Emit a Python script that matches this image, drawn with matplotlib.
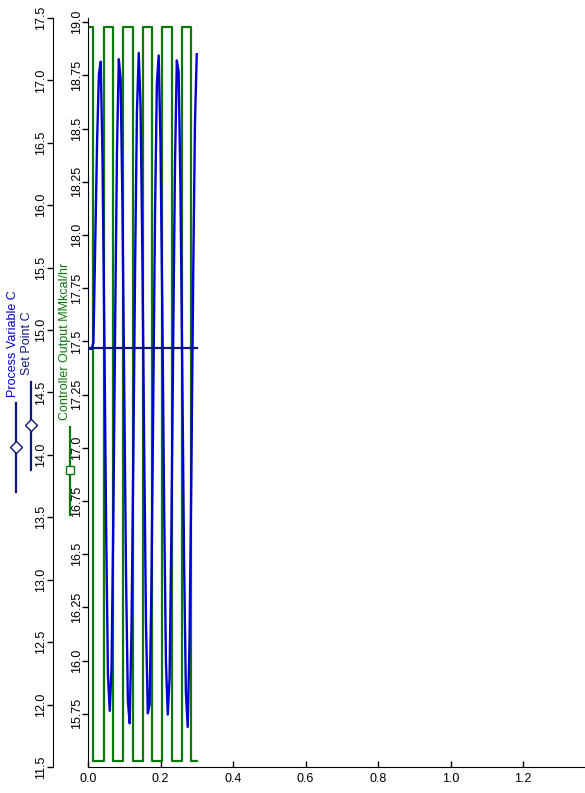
import numpy as np
import matplotlib
matplotlib.use('Agg')
import matplotlib.pyplot as plt
from matplotlib.lines import Line2D

plt.rcParams['font.family'] = ['Liberation Sans', 'DejaVu Sans']

# Process variable (C), sampled every 0.005 time units from 0 to 0.30
pv_step = 0.005
pv_values = [14.85, 14.85, 14.85, 14.90, 15.70, 16.50, 17.05,
             17.15, 16.38, 14.98, 13.43, 12.24, 11.95, 12.30, 13.52, 15.08, 16.45,
             17.17, 17.01, 16.01, 14.51, 13.02, 12.03, 11.85, 12.60, 13.97, 15.53,
             16.75, 17.22, 16.79, 15.60, 14.05, 12.65, 11.93, 12.00, 12.96, 14.44,
             15.95, 16.98, 17.20, 16.50, 15.15, 13.59, 12.34, 11.92, 12.21, 13.37,
             14.91, 16.33, 17.16, 17.07, 16.15, 14.68, 13.16, 12.10, 11.82, 12.49,
             13.81, 15.38, 16.65, 17.21]
pv_time = np.arange(len(pv_values)) * pv_step

# Set point (C)
sp_time = [0.0, 0.30]
sp_values = [14.855, 14.855]

# Controller output (MMkcal/hr), step changes
co_time = [0.0, 0.015, 0.044, 0.069, 0.097, 0.124, 0.152, 0.177, 0.204,
           0.232, 0.259, 0.284, 0.302]
co_values = [18.98, 15.53, 18.98, 15.53, 18.98, 15.53, 18.98, 15.53, 18.98,
             15.53, 18.98, 15.53, 15.53]

co_ticks = [15.75, 16.0, 16.25, 16.5, 16.75, 17.0, 17.25, 17.5, 17.75,
            18.0, 18.25, 18.5, 18.75, 19.0]
co_ticklabels = ['15.75', '16.0', '16.25', '16.5', '16.75', '17.0', '17.25',
                 '17.5', '17.75', '18.0', '18.25', '18.5', '18.75', '19.0']
temp_ticks = [11.5, 12.0, 12.5, 13.0, 13.5, 14.0, 14.5, 15.0, 15.5, 16.0,
              16.5, 17.0, 17.5]
x_ticks = [0.0, 0.2, 0.4, 0.6, 0.8, 1.0, 1.2]

pv_color = '#0000d0'
sp_color = '#0c1680'
co_color = '#0a780a'

W, H = 585, 793
fig = plt.figure(figsize=(W / 100, H / 100), dpi=100)
ax = fig.add_axes([88 / W, 1 - 767 / H, (W - 88) / W, (767 - 18) / H])

# inner axis: controller output
ax.plot(co_time, co_values, drawstyle='steps-post', color=co_color, lw=1.6)
ax.set_ylim(15.5, 19.02)
ax.set_xlim(0, 1.371)
ax.set_yticks(co_ticks)
ax.set_yticklabels(co_ticklabels, rotation=90, va='center')
ax.set_xticks(x_ticks)
ax.set_xticklabels(['%.1f' % v for v in x_ticks])
ax.tick_params(axis='y', direction='out', length=4, width=1, pad=-0.5, labelsize=9)
ax.tick_params(axis='x', direction='in', length=4, width=1, pad=4, labelsize=9)
ax.spines['top'].set_visible(False)
ax.spines['right'].set_visible(False)

# outer axis: temperatures
ax2 = ax.twinx()
ax2.plot(pv_time, pv_values, color=pv_color, lw=1.7)
ax2.plot(sp_time, sp_values, color=sp_color, lw=1.6)
ax2.set_ylim(11.5, 17.5)
ax2.spines['left'].set_position(('axes', -35 / 497))
ax2.spines['left'].set_visible(True)
ax2.spines['right'].set_visible(False)
ax2.spines['top'].set_visible(False)
ax2.spines['bottom'].set_visible(False)
ax2.yaxis.set_ticks_position('left')
ax2.yaxis.set_label_position('left')
ax2.set_yticks(temp_ticks)
ax2.set_yticklabels(['%.1f' % v for v in temp_ticks], rotation=90, va='center')
ax2.tick_params(axis='y', direction='out', length=4, width=1, pad=0, labelsize=9)

# vertical legend entries on the left
def legend_entry(x, y0, y1, ym, color, marker, label, text_color, text_bottom, tx):
    fig.add_artist(Line2D([x / W, x / W], [1 - y0 / H, 1 - y1 / H],
                          transform=fig.transFigure, color=color, lw=1.6))
    fig.add_artist(Line2D([x / W], [1 - ym / H], transform=fig.transFigure,
                          marker=marker, markersize=6, markerfacecolor='white',
                          markeredgecolor=color, markeredgewidth=1.0, color=color))
    fig.text(tx / W, 1 - text_bottom / H, label, rotation=90, color=text_color,
             fontsize=9, ha='center', va='bottom')

legend_entry(15.5, 403, 492, 447, sp_color, 'D', 'Process Variable C', pv_color, 397, 13)
legend_entry(31, 382, 470, 425, sp_color, 'D', 'Set Point C', sp_color, 375, 27.5)
legend_entry(69.5, 427, 515, 470, co_color, 's', 'Controller Output MMkcal/hr', co_color, 420, 65)

fig.savefig('out.png', dpi=100)
